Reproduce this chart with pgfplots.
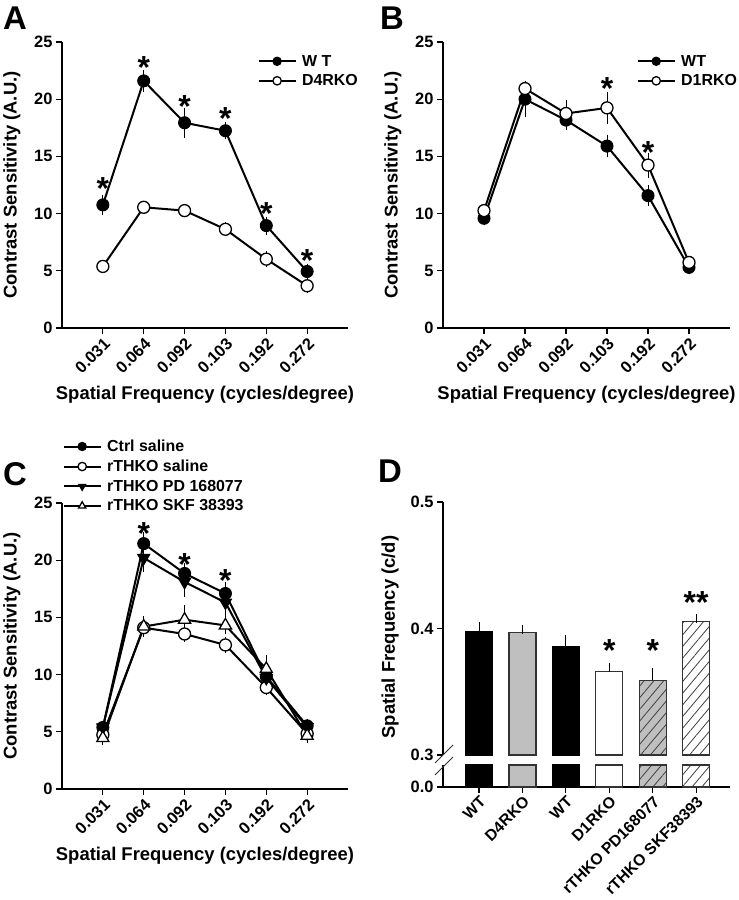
\documentclass[border=0pt]{standalone}
\usepackage{fontspec}
\setmainfont{Liberation Sans}
\usepackage{pgfplots}
\pgfplotsset{compat=1.18}
\usetikzlibrary{patterns.meta}

\newcommand\tickfont{\fontsize{16.5}{18}\selectfont\bfseries}
\newcommand\labfont{\fontsize{18.5}{20}\selectfont\bfseries}
\newcommand\legfont{\fontsize{16}{18.5}\selectfont\bfseries}
\newcommand\letfont{\fontsize{33}{36}\selectfont\bfseries}
\newcommand\astfont{\fontsize{32}{34}\selectfont\bfseries}

\tikzset{ast/.style={font=\astfont, inner sep=0pt, anchor=center, yshift=-7bp}}

\pgfplotsset{
  linepanel/.style={
    scale only axis, width=286bp, height=286bp,
    axis lines=left, axis line style={-, line width=1.3bp},
    xmin=-1, xmax=6, ymin=0, ymax=25,
    xtick={0,...,5}, xticklabels={0.031,0.064,0.092,0.103,0.192,0.272},
    ytick={0,5,10,15,20,25},
    tick align=outside, major tick length=6bp,
    tick style={line width=1.2bp, black},
    xticklabel style={rotate=45, anchor=north east, font=\tickfont, inner sep=2bp},
    yticklabel style={font=\tickfont},
    /pgf/number format/assume math mode=true,
    xlabel={Spatial Frequency (cycles/degree)},
    ylabel={Contrast Sensitivity (A.U.)},
    label style={font=\labfont},
    xlabel style={at={(axis description cs:0.5,-0.234)}, anchor=center},
    ylabel style={at={(axis description cs:-0.175,0.5)}, anchor=center},
    legend cell align=left,
    legend style={draw=none, fill=none, font=\legfont, anchor=north west,
      inner sep=0pt, row sep=3bp,
      /tikz/every odd column/.append style={column sep=3bp}},
    legend image code/.code={\draw[mark repeat=2, mark phase=2, #1, mark size=4.2bp]
      plot coordinates {(0bp,0bp) (18bp,0bp) (37bp,0bp)};},
  },
  err/.style={error bars/.cd, y dir=both, y explicit, error mark=-,
    error bar style={line width=1bp, black},
    error mark options={mark size=4.5bp, line width=1bp, black}},
  derr/.style={error bars/.cd, y dir=plus, y explicit, error mark=-,
    error bar style={line width=1bp, black},
    error mark options={mark size=4.5bp, line width=1bp, black}},
  sfill/.style={black, line width=2bp, mark=*, mark size=6bp,
    mark options={fill=black, line width=1bp}, err},
  sopen/.style={black, line width=2bp, mark=*, mark size=6bp,
    mark options={fill=white, line width=1.3bp}, err},
  sdown/.style={black, line width=2bp, mark=triangle*, mark size=7bp,
    mark options={fill=black, rotate=180, line width=1bp}, err},
  sup/.style={black, line width=2bp, mark=triangle*, mark size=7bp,
    mark options={fill=white, line width=1.3bp}, err},
  hatch/.style={postaction={pattern={Lines[angle=50,distance=7.5bp,line width=0.8bp]}, pattern color=black!75}},
}

\begin{document}
\begin{tikzpicture}
\useasboundingbox (0,0) rectangle (739bp,900bp);

% ---------------- Panel A ----------------
\begin{axis}[linepanel, at={(62bp,572bp)}, anchor=south west,
  legend style={at={(0.685,0.962)}}]
\addplot+[sfill] table[x=x, y=y, y error=e] {
x y e
0 10.76 0.5
1 21.6 0.6
2 17.94 0.9
3 17.24 0.35
4 8.95 0.4
5 4.94 0.3
};
\addlegendentry{W T}
\addplot+[sopen] table[x=x, y=y, y error=e] {
x y e
0 5.38 0.2
1 10.55 0.2
2 10.26 0.2
3 8.63 0.2
4 6.02 0.3
5 3.69 0.2
};
\addlegendentry{D4RKO}
\node[ast] at (axis cs:0,12.8) {*};
\node[ast] at (axis cs:1,23.4) {*};
\node[ast] at (axis cs:2,19.97) {*};
\node[ast] at (axis cs:3,18.95) {*};
\node[ast] at (axis cs:4,10.6) {*};
\node[ast] at (axis cs:5,6.54) {*};
\end{axis}

% ---------------- Panel B ----------------
\begin{axis}[linepanel, width=287bp, at={(443bp,572bp)}, anchor=south west,
  legend style={at={(0.676,0.962)}}]
\addplot+[sfill] table[x=x, y=y, y error=e] {
x y e
0 9.59 0.2
1 20.0 1.2
2 18.17 0.5
3 15.9 0.6
4 11.57 0.5
5 5.3 0.2
};
\addlegendentry{WT}
\addplot+[sopen] table[x=x, y=y, y error=e] {
x y e
0 10.26 0.2
1 20.93 0.3
2 18.75 0.8
3 19.24 1.0
4 14.24 0.7
5 5.73 0.2
};
\addlegendentry{D1RKO}
\node[ast] at (axis cs:3,21.5) {*};
\node[ast] at (axis cs:4,15.93) {*};
\end{axis}

% ---------------- Panel C ----------------
\begin{axis}[linepanel, at={(62bp,111bp)}, anchor=south west,
  legend style={at={(0.0035,1.228)}}]
\addplot+[sfill] table[x=x, y=y, y error=e] {
x y e
0 5.38 0.2
1 21.45 0.6
2 18.84 0.5
3 17.09 0.6
4 9.83 0.3
5 5.52 0.2
};
\addlegendentry{Ctrl saline}
\addplot+[sopen] table[x=x, y=y, y error=e] {
x y e
0 4.74 0.2
1 14.1 0.3
2 13.55 0.3
3 12.59 0.3
4 8.87 0.3
5 4.83 0.2
};
\addlegendentry{rTHKO saline}
\addplot+[sdown] table[x=x, y=y, y error=e] {
x y e
0 5.38 0.2
1 20.2 0.8
2 18.1 0.9
3 16.3 1.0
4 9.7 0.3
5 5.4 0.2
};
\addlegendentry{rTHKO PD 168077}
\addplot+[sup] table[x=x, y=y, y error=e] {
x y e
0 4.45 0.2
1 14.2 0.5
2 14.8 0.9
3 14.3 0.4
4 10.5 0.8
5 4.65 0.2
};
\addlegendentry{rTHKO SKF 38393}
\node[ast] at (axis cs:1,22.9) {*};
\node[ast] at (axis cs:2,20.2) {*};
\node[ast] at (axis cs:3,18.84) {*};
\end{axis}

% ---------------- Panel D (upper part, 0.3 to 0.5) ----------------
\begin{axis}[scale only axis, width=287bp, height=253bp,
  at={(443bp,145bp)}, anchor=south west,
  axis y line=left, axis x line=none, axis line style={-, line width=1.3bp},
  xmin=-0.83, xmax=5.78, ymin=0, ymax=0.2, clip=false,
  y filter/.expression={y-0.3},
  scaled y ticks=false,
  ytick={0,0.1,0.2}, yticklabels={0.3,0.4,0.5},
  tick align=outside, major tick length=6bp, tick style={line width=1.2bp, black},
  yticklabel style={font=\tickfont},
  /pgf/number format/assume math mode=true,
  bar width=27bp]
\addplot[ybar, draw=black, line width=1.2bp, fill=black, derr] coordinates {(0,0.3974) +- (0,0.0045)};
\addplot[ybar, draw=black!80, line width=1.2bp, fill=black!25, derr] coordinates {(1,0.3970) +- (0,0.0026)};
\addplot[ybar, draw=black, line width=1.2bp, fill=black, derr] coordinates {(2,0.3860) +- (0,0.0055)};
\addplot[ybar, draw=black!80, line width=1.2bp, fill=white, derr] coordinates {(3,0.3660) +- (0,0.0030)};
\addplot[ybar, draw=black!80, line width=1.2bp, fill=black!25, hatch, derr]
  coordinates {(4,0.3590) +- (0,0.0066)};
\addplot[ybar, draw=black!80, line width=1.2bp, fill=white, hatch, derr]
  coordinates {(5,0.4058) +- (0,0.0020)};
\node[ast] at (axis cs:3,0.088) {*};
\node[ast] at (axis cs:4,0.088) {*};
\node[ast] at (axis cs:5,0.126) {**};
\end{axis}

% ---------------- Panel D (lower part, from 0.0) ----------------
\begin{axis}[scale only axis, width=287bp, height=22bp,
  at={(443bp,113bp)}, anchor=south west,
  axis y line=left, axis x line=bottom, axis line style={-, line width=1.3bp},
  xmin=-0.83, xmax=5.78, ymin=0, ymax=0.02, clip=false,
  y filter/.expression={min(y,0.02)},
  scaled y ticks=false,
  ytick={0}, yticklabels={0.0},
  xtick={0,...,5},
  xticklabels={WT,D4RKO,WT,D1RKO,rTHKO PD168077,rTHKO SKF38393},
  tick align=outside, major tick length=6bp, tick style={line width=1.2bp, black},
  xticklabel style={rotate=45, anchor=north east, font=\fontsize{15.8}{17}\selectfont\bfseries, inner sep=1.5bp},
  yticklabel style={font=\tickfont},
  /pgf/number format/assume math mode=true,
  bar width=27bp]
\addplot[ybar, draw=black, line width=1.2bp, fill=black] coordinates {(0,0.3974)};
\addplot[ybar, draw=black!80, line width=1.2bp, fill=black!25] coordinates {(1,0.3970)};
\addplot[ybar, draw=black, line width=1.2bp, fill=black] coordinates {(2,0.3860)};
\addplot[ybar, draw=black!80, line width=1.2bp, fill=white] coordinates {(3,0.3660)};
\addplot[ybar, draw=black!80, line width=1.2bp, fill=black!25, hatch] coordinates {(4,0.3590)};
\addplot[ybar, draw=black!80, line width=1.2bp, fill=white, hatch] coordinates {(5,0.4058)};
\end{axis}

% axis break marks
\draw[line width=1bp, black!80] (435bp,137bp) -- (453bp,155bp);
\draw[line width=1bp, black!80] (435bp,125bp) -- (453bp,143bp);

% D y label
\node[font=\labfont, rotate=90] at (390bp,263bp) {Spatial Frequency (c/d)};

% panel letters
\node[font=\letfont, anchor=north west, inner sep=0pt] at (3bp,893bp) {A};
\node[font=\letfont, anchor=north west, inner sep=0pt] at (380bp,893bp) {B};
\node[font=\letfont, anchor=north west, inner sep=0pt] at (3bp,438bp) {C};
\node[font=\letfont, anchor=north west, inner sep=0pt] at (378bp,440bp) {D};
\end{tikzpicture}
\end{document}
